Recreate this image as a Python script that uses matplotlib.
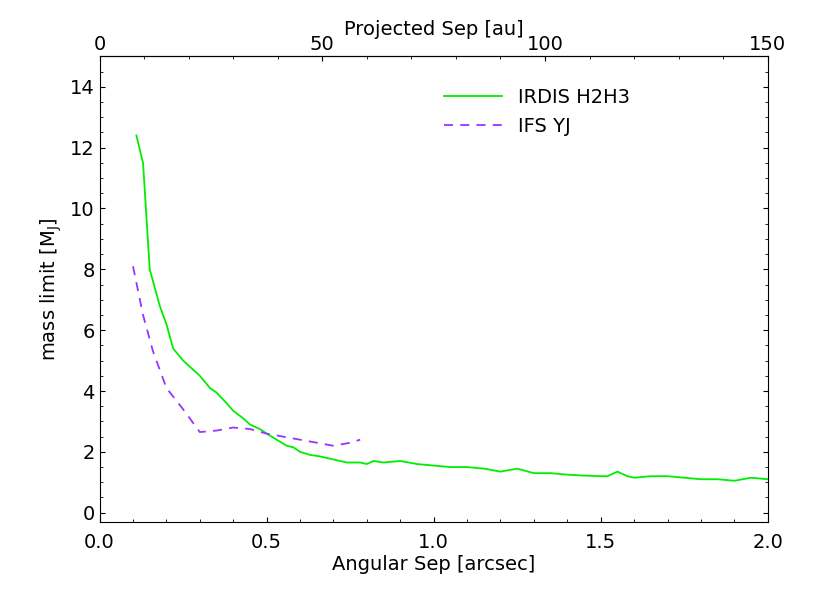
import matplotlib
matplotlib.use("Agg")
import matplotlib.pyplot as plt

# IRDIS H2H3 contrast curve (arcsec, MJup)
irdis_sep = [0.11, 0.13, 0.15, 0.18, 0.20, 0.22, 0.25, 0.28, 0.30, 0.33, 0.35, 0.38, 0.40,
             0.43, 0.45, 0.48, 0.50, 0.53, 0.56, 0.58, 0.60, 0.63, 0.66, 0.70, 0.74, 0.78,
             0.80, 0.82, 0.85, 0.90, 0.95, 1.00, 1.05, 1.10, 1.15, 1.20, 1.25, 1.30, 1.35,
             1.40, 1.45, 1.50, 1.52, 1.55, 1.58, 1.60, 1.65, 1.70, 1.75, 1.80, 1.85, 1.90,
             1.95, 2.00]
irdis_mass = [12.4, 11.5, 8.0, 6.8, 6.2, 5.4, 5.0, 4.7, 4.5, 4.1, 3.95, 3.6, 3.35,
              3.1, 2.9, 2.75, 2.6, 2.4, 2.2, 2.15, 2.0, 1.9, 1.85, 1.75, 1.65, 1.65,
              1.6, 1.7, 1.65, 1.7, 1.6, 1.55, 1.5, 1.5, 1.45, 1.35, 1.45, 1.3, 1.3,
              1.25, 1.22, 1.2, 1.2, 1.35, 1.2, 1.15, 1.2, 1.2, 1.15, 1.1, 1.1, 1.05,
              1.15, 1.1]

# IFS YJ contrast curve
ifs_sep = [0.10, 0.13, 0.16, 0.20, 0.25, 0.30, 0.35, 0.40, 0.45, 0.50, 0.60, 0.70, 0.75, 0.78]
ifs_mass = [8.1, 6.5, 5.3, 4.1, 3.4, 2.65, 2.7, 2.8, 2.75, 2.6, 2.4, 2.2, 2.3, 2.4]

dist_pc = 75.0  # 2 arcsec -> 150 au

plt.rcParams['font.size'] = 14
fig, ax = plt.subplots(figsize=(8.3, 5.93), dpi=100)
fig.subplots_adjust(left=0.12, right=0.925, top=0.905, bottom=0.12)

ax.plot(irdis_sep, irdis_mass, color='#00ee00', lw=1.3, label='IRDIS H2H3')
ax.plot(ifs_sep, ifs_mass, color='#9933ff', lw=1.3, ls=(0, (5, 4)), label='IFS YJ')

ax.set_xlim(0, 2.0)
ax.set_ylim(-0.3, 15.0)
ax.set_yticks(range(0, 15, 2))
ax.set_xticks([0, 0.5, 1.0, 1.5, 2.0])
ax.set_xticklabels(['0.0', '0.5', '1.0', '1.5', '2.0'])
ax.set_xlabel('Angular Sep [arcsec]', labelpad=2)
ax.set_ylabel('mass limit [M$_\\mathrm{J}$]')
ax.minorticks_on()
ax.tick_params(which='both', direction='in', top=False, right=True)
ax.tick_params(axis='x', pad=8)

top = ax.secondary_xaxis('top', functions=(lambda x: x * dist_pc, lambda a: a / dist_pc))
top.set_xticks([0, 50, 100, 150])
top.set_xlabel('Projected Sep [au]', labelpad=0)
top.minorticks_on()
top.tick_params(which='both', direction='in', pad=2)

ax.legend(loc='upper right', bbox_to_anchor=(0.82, 0.97), frameon=False, handlelength=3)
fig.savefig('out.png')
